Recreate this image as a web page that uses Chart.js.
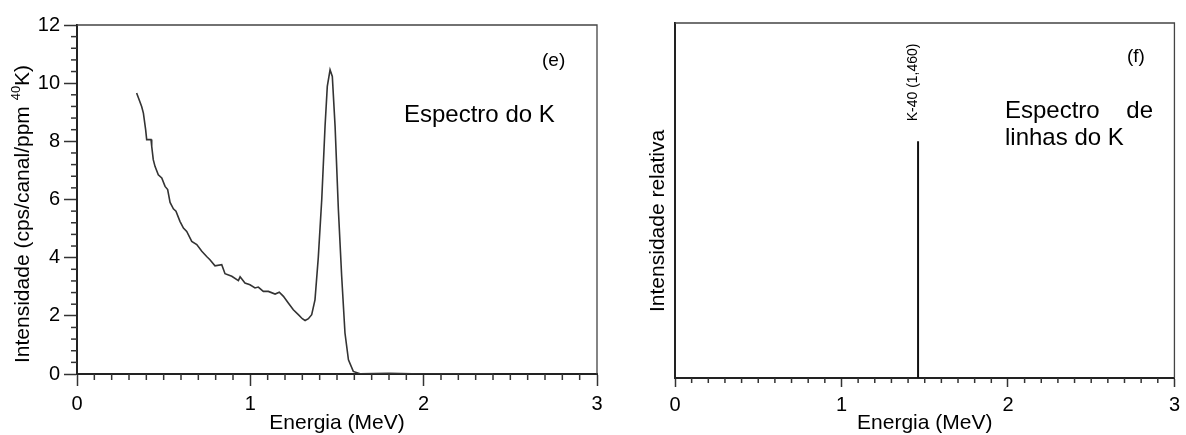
<!DOCTYPE html>
<html>
<head>
<meta charset="utf-8">
<script src="https://cdn.jsdelivr.net/npm/chart.js@4.4.1/dist/chart.umd.min.js"></script>
<style>
  html, body { margin: 0; padding: 0; background: #fff; }
  canvas { position: absolute; top: 0; }
  #chartE { left: 0; }
  #chartF { left: 610px; }
</style>
</head>
<body>
<canvas id="chartE" width="610" height="435"></canvas>
<canvas id="chartF" width="576" height="435"></canvas>
<script>
// ============================================
// Gamma spectra of K: measured (e) and line spectrum (f)
// ============================================

const energy = [
  0.344, 0.373, 0.383, 0.396, 0.402, 0.427, 0.431, 0.440, 0.450, 0.469,
  0.489, 0.508, 0.523, 0.537, 0.556, 0.571, 0.594, 0.614, 0.633, 0.662,
  0.691, 0.720, 0.748, 0.767, 0.796, 0.835, 0.854, 0.893, 0.931, 0.941,
  0.969, 0.998, 1.027, 1.046, 1.075, 1.104, 1.143, 1.167, 1.191, 1.219,
  1.248, 1.277, 1.300, 1.316, 1.335, 1.354, 1.373, 1.392, 1.412, 1.431,
  1.444, 1.460, 1.473, 1.489, 1.508, 1.527, 1.546, 1.566, 1.594, 1.633,
  1.800, 2.000, 2.400
];
const intensity = [
  9.66, 9.20, 8.97, 8.40, 8.06, 8.06, 7.83, 7.37, 7.14, 6.85,
  6.74, 6.45, 6.34, 5.90, 5.68, 5.60, 5.25, 5.02, 4.90, 4.56,
  4.45, 4.22, 4.04, 3.93, 3.72, 3.76, 3.45, 3.36, 3.21, 3.34,
  3.13, 3.07, 2.96, 2.99, 2.84, 2.84, 2.75, 2.81, 2.67, 2.44,
  2.21, 2.04, 1.90, 1.84, 1.90, 2.04, 2.55, 4.00, 6.00, 8.51,
  9.89, 10.46, 10.23, 8.51, 5.65, 3.36, 1.41, 0.49, 0.09, 0.01,
  0.02, 0.00, 0.01
];

// (f) line spectrum
const lineEnergy = [1.46];
const lineIntensity = [1.0];
const lineLabels = ['K-40 (1,460)'];

const FONT = "'Liberation Sans', Arial, sans-serif";
const INK = '#000';

// minor ticks between the major ones
const minorTicks = {
  id: 'minorTicks',
  afterDraw(chart, args, opts) {
    const { ctx, chartArea } = chart;
    ctx.save();
    ctx.strokeStyle = '#333';
    ctx.lineWidth = 1.5;
    Object.keys(opts.axes || {}).forEach(key => {
      const s = chart.scales[key];
      const o = opts.axes[key];
      const n = Math.round((s.max - s.min) / o.step);
      for (let i = 0; i <= n; i++) {
        const v = s.min + i * o.step;
        if (Math.abs(v / o.major - Math.round(v / o.major)) < 1e-6) continue;
        const p = s.getPixelForValue(v);
        ctx.beginPath();
        if (s.isHorizontal()) {
          ctx.moveTo(p, chartArea.bottom);
          ctx.lineTo(p, chartArea.bottom + o.len);
        } else {
          ctx.moveTo(chartArea.left - o.len, p);
          ctx.lineTo(chartArea.left, p);
        }
        ctx.stroke();
      }
    });
    ctx.restore();
  }
};

// top + right edges of the box
const frame = {
  id: 'frame',
  afterDraw(chart) {
    const { ctx, chartArea: a } = chart;
    ctx.save();
    ctx.strokeStyle = '#444';
    ctx.lineWidth = 1.3;
    ctx.beginPath();
    ctx.moveTo(a.left, a.top);
    ctx.lineTo(a.right, a.top);
    ctx.lineTo(a.right, a.bottom);
    ctx.stroke();
    ctx.restore();
  }
};

// free text inside the panels
const notes = {
  id: 'notes',
  afterDraw(chart, args, opts) {
    const { ctx } = chart;
    ctx.save();
    ctx.fillStyle = INK;
    ctx.textBaseline = 'alphabetic';
    (opts.items || []).forEach(t => {
      ctx.font = `${t.size}px ${FONT}`;
      ctx.textAlign = t.align || 'left';
      ctx.fillText(t.text, t.x, t.y);
    });

    // vertical title with a superscript (40K)
    if (opts.vtitle) {
      const v = opts.vtitle;
      ctx.translate(v.x, v.y);
      ctx.rotate(-Math.PI / 2);
      ctx.textAlign = 'left';
      ctx.textBaseline = 'middle';
      let pos = 0;
      v.parts.forEach(p => {
        const size = p.sup ? Math.round(v.size * 0.62) : v.size;
        ctx.font = `${size}px ${FONT}`;
        ctx.fillText(p.text, pos, p.sup ? -v.size * 0.33 : 0);
        pos += ctx.measureText(p.text).width;
      });
      ctx.setTransform(1, 0, 0, 1, 0, 0);
    }

    // rotated labels over spectral lines
    (opts.lineLabels || []).forEach(l => {
      const x = chart.scales.x.getPixelForValue(l.x) - 5;
      const y = chart.scales.y.getPixelForValue(l.y) - 20;
      ctx.translate(x, y);
      ctx.rotate(-Math.PI / 2);
      ctx.font = `14px ${FONT}`;
      ctx.textAlign = 'left';
      ctx.textBaseline = 'middle';
      ctx.fillText(l.text, 0, 0);
      ctx.setTransform(1, 0, 0, 1, 0, 0);
    });
    ctx.restore();
  }
};

function xAxis(tickLen, height) {
  return {
    type: 'linear',
    min: 0,
    max: 3,
    ticks: { stepSize: 1, color: INK, font: { family: FONT, size: 20 }, padding: 6, maxRotation: 0 },
    grid: { drawOnChartArea: false, tickLength: tickLen, tickColor: '#333', tickWidth: 1.5 },
    border: { color: '#222', width: 2 },
    title: {
      display: true,
      text: 'Energia (MeV)',
      color: INK,
      font: { family: FONT, size: 21, lineHeight: 1.1 },
      padding: { top: 0, bottom: 0 }
    },
    afterFit(s) { s.height = height; }
  };
}

const baseOptions = {
  responsive: false,
  animation: false,
  plugins: {
    legend: { display: false },
    tooltip: { enabled: false }
  }
};

new Chart(document.getElementById('chartE'), {
  type: 'line',
  data: {
    datasets: [{
      data: energy.map((e, i) => ({ x: e, y: intensity[i] })),
      borderColor: '#333',
      borderWidth: 1.6,
      pointRadius: 0,
      tension: 0,
      fill: false
    }]
  },
  options: {
    ...baseOptions,
    layout: { padding: { top: 25, right: 13, left: 0, bottom: 0 } },
    scales: {
      x: xAxis(12, 61),
      y: {
        min: 0,
        max: 12,
        ticks: { stepSize: 2, color: INK, font: { family: FONT, size: 20 }, padding: 4 },
        grid: { drawOnChartArea: false, tickLength: 13, tickColor: '#333', tickWidth: 1.5 },
        border: { color: '#222', width: 2 },
        title: { display: false },
        afterFit(s) { s.width = 77; }
      }
    },
    plugins: {
      ...baseOptions.plugins,
      minorTicks: { axes: { x: { step: 0.1, major: 1, len: 6 }, y: { step: 0.4, major: 2, len: 6 } } },
      notes: {
        items: [
          { text: '(e)', x: 542, y: 66, size: 19 },
          { text: 'Espectro do K', x: 404, y: 122, size: 24 }
        ],
        vtitle: {
          x: 23, y: 363, size: 21,
          parts: [
            { text: 'Intensidade (cps/canal/ppm ' },
            { text: '40', sup: true },
            { text: 'K)' }
          ]
        }
      }
    }
  },
  plugins: [minorTicks, frame, notes]
});

new Chart(document.getElementById('chartF'), {
  type: 'line',
  data: {
    datasets: [{
      data: lineEnergy.flatMap((e, i) => [{ x: e, y: 0 }, { x: e, y: lineIntensity[i] }]),
      borderColor: '#111',
      borderWidth: 2,
      pointRadius: 0,
      tension: 0,
      fill: false
    }]
  },
  options: {
    ...baseOptions,
    layout: { padding: { top: 23, right: 5, left: 0, bottom: 0 } },
    scales: {
      x: xAxis(9, 57),
      y: {
        min: 0,
        max: 1.5,
        ticks: { display: false },
        grid: { drawOnChartArea: false, drawTicks: false },
        border: { color: '#222', width: 2 },
        title: {
          display: true,
          text: 'Intensidade relativa       ',
          color: INK,
          font: { family: FONT, size: 21, lineHeight: 1.1 },
          padding: { top: 37, bottom: 0 }
        },
        afterFit(s) { s.width = 65; }
      }
    },
    plugins: {
      ...baseOptions.plugins,
      minorTicks: { axes: { x: { step: 0.1, major: 1, len: 5 } } },
      notes: {
        items: [
          { text: '(f)', x: 517, y: 62, size: 19 },
          { text: 'Espectro', x: 395, y: 118, size: 24 },
          { text: 'de', x: 543, y: 118, size: 24, align: 'right' },
          { text: 'linhas do K', x: 395, y: 145, size: 24 }
        ],
        lineLabels: lineEnergy.map((e, i) => ({ x: e, y: lineIntensity[i], text: lineLabels[i] }))
      }
    }
  },
  plugins: [minorTicks, frame, notes]
});
</script>
</body>
</html>
